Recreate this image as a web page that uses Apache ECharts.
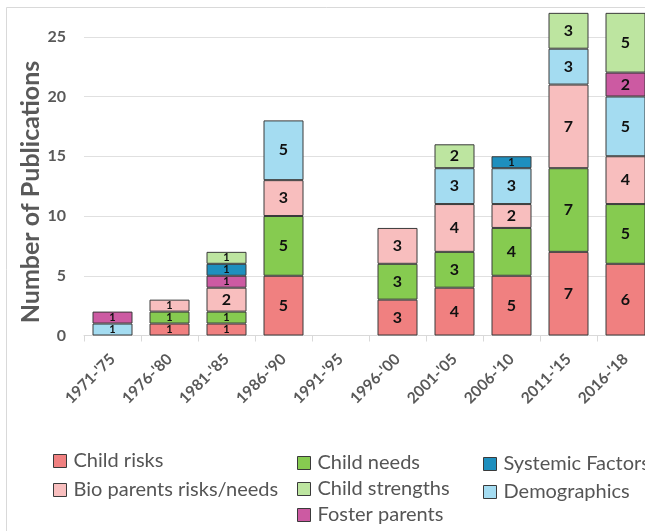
<!DOCTYPE html>
<html><head><meta charset="utf-8">
<script src="https://cdn.jsdelivr.net/npm/echarts@6/dist/echarts.min.js"></script>
<style>html,body{margin:0;padding:0;background:#fff}#c{width:645px;height:531px}</style>
</head><body><div id="c"></div>
<script>
const categories = ["1971-'75","1976-'80","1981-'85","1986-'90","1991-'95","1996-'00","2001-'05","2006-'10","2011-'15","2016-'18"];
const childRisks      = [null,1,1,5,null,3,4,5,7,6];
const childNeeds      = [null,1,1,5,null,3,3,4,7,5];
const bioParents      = [null,1,2,3,null,3,4,2,7,4];
const demographics    = [1,null,null,5,null,null,3,3,3,5];
const fosterParents   = [1,null,1,null,null,null,null,null,null,2];
const systemicFactors = [null,null,1,null,null,null,null,1,null,null];
const childStrengths  = [null,null,1,null,null,null,2,null,3,5];
const yTicks = [0,5,10,15,20,25,30];

const FONT = 'Lato, "Open Sans", sans-serif';
const GRAY = '#595959';
const seriesDefs = [
  {name:'Child risks', data:childRisks, color:'#F08080'},
  {name:'Child needs', data:childNeeds, color:'#86CB50'},
  {name:'Bio parents risks/needs', data:bioParents, color:'#F8BEBE'},
  {name:'Demographics', data:demographics, color:'#A4DCF1'},
  {name:'Foster parents', data:fosterParents, color:'#CC5AA2'},
  {name:'Systemic Factors', data:systemicFactors, color:'#1E8FBE'},
  {name:'Child strengths', data:childStrengths, color:'#BDE5A0'}
];
const series = seriesDefs.map(s => ({
  name: s.name, type: 'bar', stack: 'all', barWidth: 40,
  itemStyle: {color: s.color, borderColor: '#3a3a3a', borderWidth: 1},
  label: {show: true, position: 'inside', color: '#111', fontWeight: 'bold', fontFamily: FONT,
    formatter: p => p.value == null ? '' : String(p.value)},
  data: s.data.map(v => v == null ? null : {value: v, label: {fontSize: v === 1 ? 11 : 16}})
}));
const legendBase = {orient: 'vertical', itemWidth: 13, itemHeight: 13, icon: 'rect', padding: 0,
  textStyle: {color: '#555', fontSize: 20, lineHeight: 20, fontFamily: FONT, padding: [0,0,0,2]},
  itemStyle: {borderColor: '#3a3a3a', borderWidth: 1}};
const chart = echarts.init(document.getElementById('c'));
chart.setOption({
  animation: false,
  backgroundColor: '#fff',
  grid: {left: 84, right: -9, top: -23, bottom: 195.5, containLabel: false, outerBoundsMode: 'none'},
  xAxis: {type: 'category', data: categories,
    axisLine: {lineStyle: {color: '#d9d9d9'}},
    axisTick: {show: true, lineStyle: {color: '#d9d9d9'}, length: 6},
    axisLabel: {rotate: 45, color: GRAY, fontSize: 15.5, fontWeight: 'bold', fontFamily: FONT, margin: 21, interval: 0}},
  yAxis: {type: 'value', min: 0, max: 30, interval: 5,
    axisLine: {show: false}, axisTick: {show: false},
    splitLine: {lineStyle: {color: '#e0e0e0'}},
    axisLabel: {color: GRAY, fontSize: 16, fontWeight: 'bold', fontFamily: FONT, margin: 18,
      formatter: v => yTicks.includes(v) ? String(v) : ''}},
  legend: [
    Object.assign({}, legendBase, {left: 53, top: 451, itemGap: 9, data: ['Child risks','Bio parents risks/needs']}),
    Object.assign({}, legendBase, {left: 297, top: 453, itemGap: 6, data: ['Child needs','Child strengths','Foster parents']}),
    Object.assign({}, legendBase, {left: 483, top: 454, itemGap: 8, data: ['Systemic Factors','Demographics']})
  ],
  graphic: [
    {type: 'rect', shape: {x: 6.5, y: 7.5, width: 700, height: 600}, style: {fill: 'none', stroke: '#d9d9d9', lineWidth: 1}, silent: true},
    {type: 'text', x: 31, y: 192, rotation: Math.PI/2,
      style: {text: 'Number of Publications', fill: GRAY, font: 'bold 25px ' + FONT, textAlign: 'center', textVerticalAlign: 'middle'}}
  ],
  series: series
});
</script></body></html>
